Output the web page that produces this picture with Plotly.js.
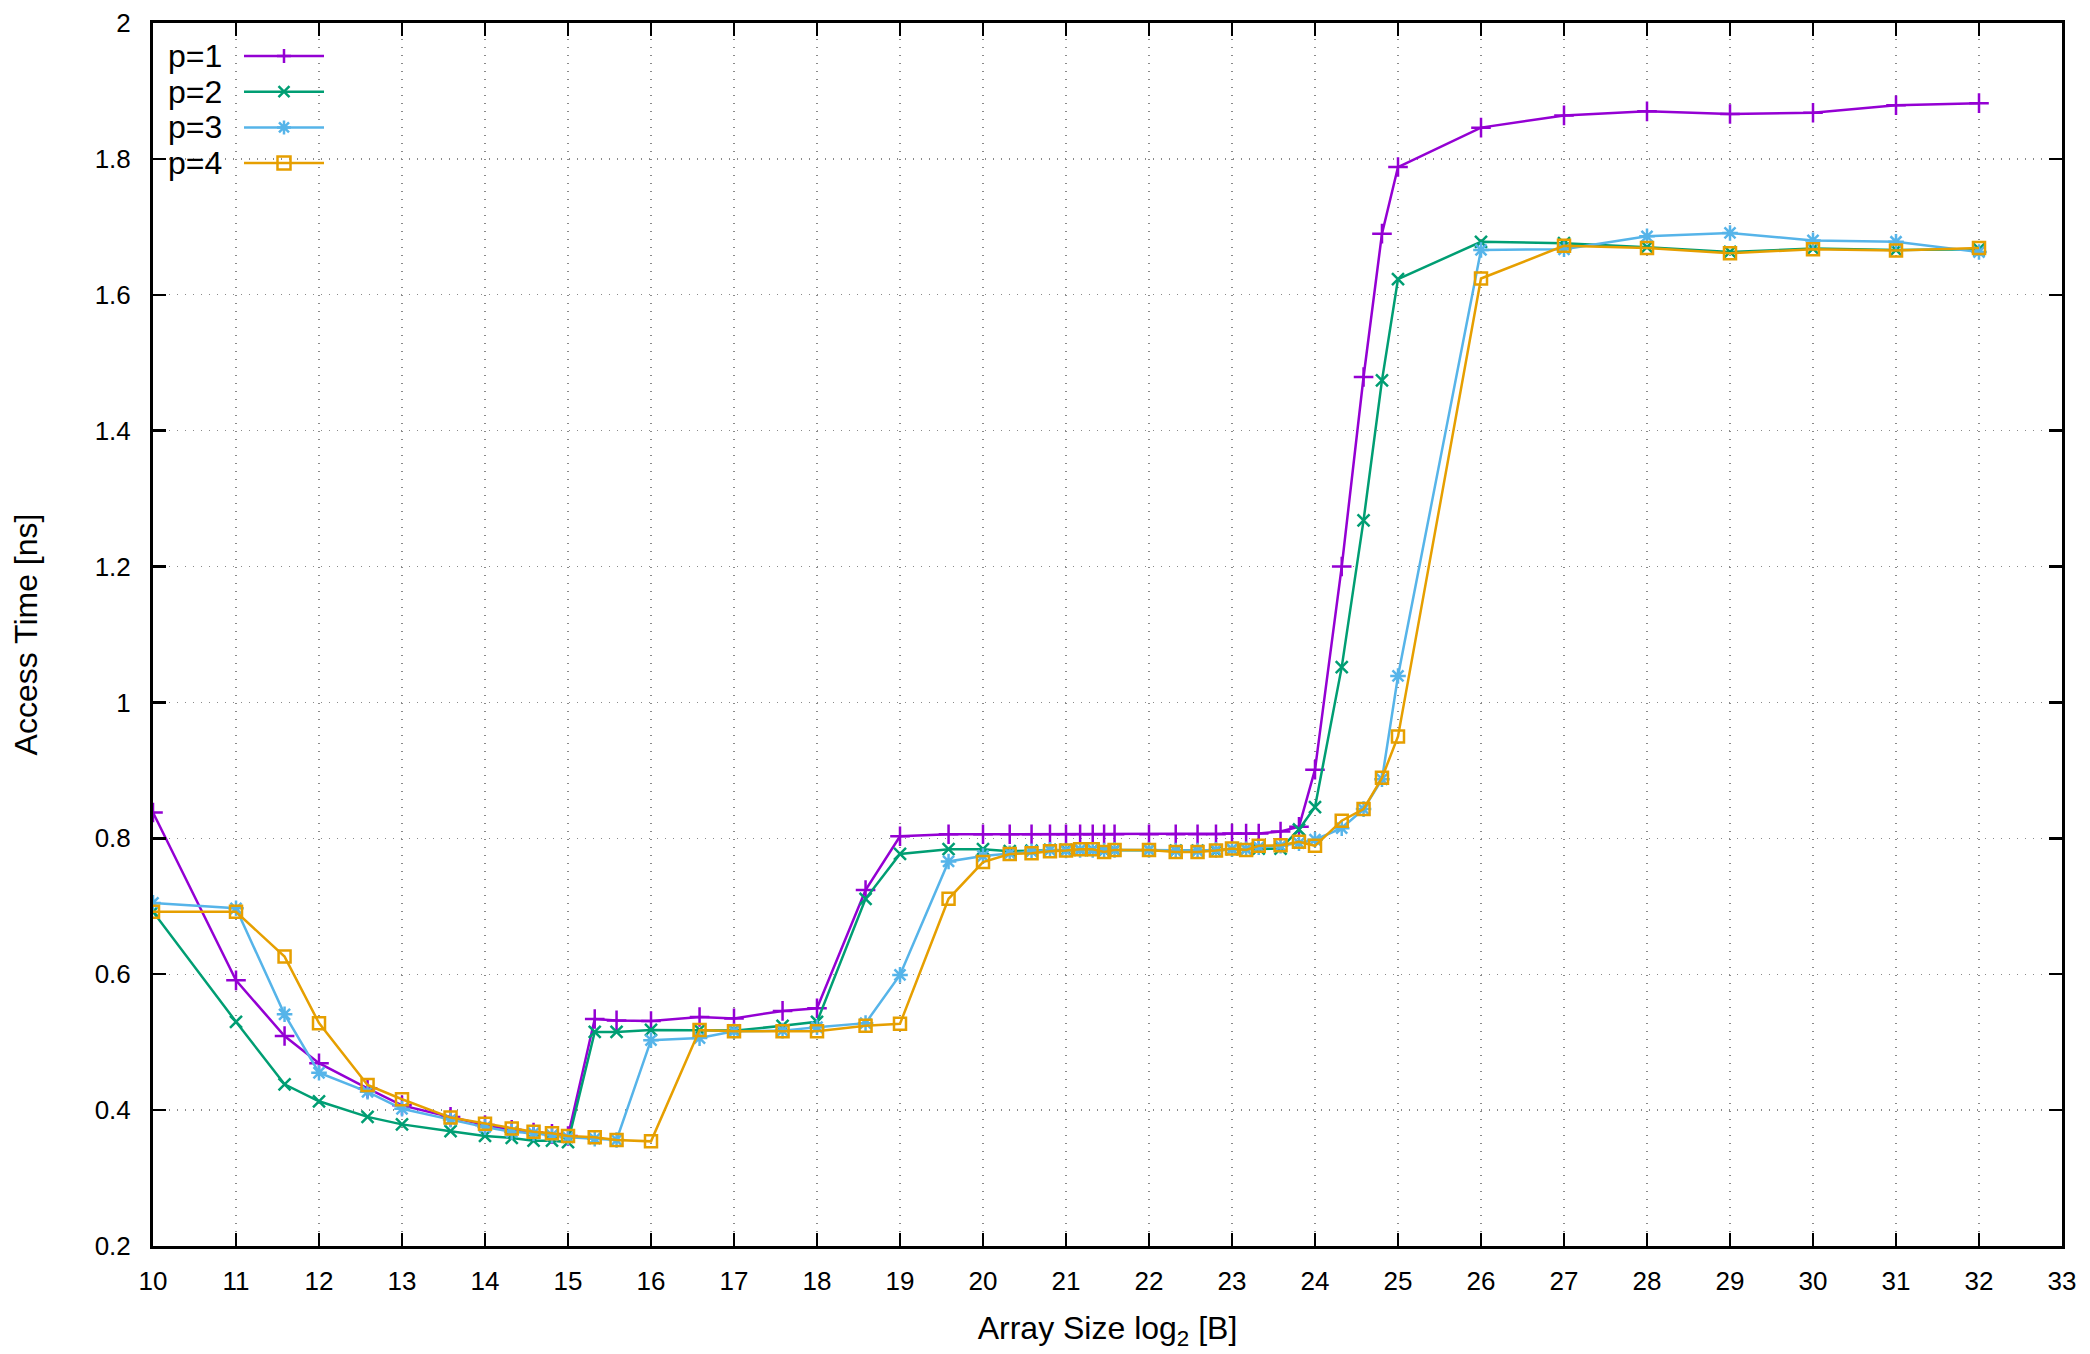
<!DOCTYPE html>
<html>
<head>
<meta charset="utf-8">
<script src="https://cdn.plot.ly/plotly-3.0.1.min.js"></script>
<style>
html,body{margin:0;padding:0;background:#fff;}
#chart{width:2090px;height:1354px;}
</style>
</head>
<body>
<div id="chart"></div>
<script>
// Array size, log2 of bytes
const sizeLog2 = [10, 11, 11.585, 12, 12.585, 13, 13.585, 14, 14.322, 14.585, 14.807, 15, 15.322, 15.585, 16, 16.585, 17, 17.585, 18, 18.585, 19, 19.585, 20, 20.322, 20.585, 20.807, 21, 21.17, 21.322, 21.459, 21.585, 22, 22.322, 22.585, 22.807, 23, 23.17, 23.322, 23.585, 23.807, 24, 24.322, 24.585, 24.807, 25, 26, 27, 28, 29, 30, 31, 32];

// Access time [ns]
const p1 = [0.838, 0.591, 0.509, 0.469, 0.432, 0.407, 0.390, 0.378, 0.371, 0.367, 0.365, 0.362, 0.534, 0.532, 0.531, 0.537, 0.535, 0.546, 0.550, 0.724, 0.803, 0.806, 0.806, 0.806, 0.806, 0.806, 0.806, 0.806, 0.806, 0.806, 0.806, 0.806, 0.806, 0.806, 0.806, 0.807, 0.807, 0.807, 0.810, 0.817, 0.901, 1.200, 1.479, 1.690, 1.788, 1.846, 1.864, 1.870, 1.866, 1.868, 1.879, 1.882];
const p2 = [0.692, 0.530, 0.438, 0.413, 0.390, 0.379, 0.369, 0.362, 0.359, 0.355, 0.355, 0.353, 0.515, 0.515, 0.518, 0.518, 0.517, 0.524, 0.530, 0.711, 0.777, 0.784, 0.784, 0.781, 0.782, 0.783, 0.783, 0.783, 0.783, 0.782, 0.783, 0.783, 0.782, 0.782, 0.782, 0.784, 0.784, 0.785, 0.785, 0.813, 0.846, 1.052, 1.268, 1.474, 1.623, 1.678, 1.676, 1.670, 1.663, 1.668, 1.666, 1.667];
const p3 = [0.705, 0.697, 0.541, 0.455, 0.427, 0.402, 0.386, 0.375, 0.368, 0.366, 0.363, 0.360, 0.358, 0.356, 0.503, 0.506, 0.516, 0.517, 0.522, 0.528, 0.599, 0.766, 0.774, 0.778, 0.781, 0.783, 0.782, 0.783, 0.783, 0.782, 0.783, 0.783, 0.782, 0.782, 0.783, 0.784, 0.784, 0.787, 0.789, 0.793, 0.798, 0.815, 0.843, 0.887, 1.039, 1.666, 1.667, 1.686, 1.691, 1.680, 1.678, 1.663];
const p4 = [0.692, 0.692, 0.626, 0.528, 0.437, 0.416, 0.389, 0.380, 0.373, 0.368, 0.366, 0.362, 0.360, 0.356, 0.354, 0.518, 0.516, 0.516, 0.516, 0.524, 0.527, 0.711, 0.765, 0.777, 0.778, 0.781, 0.782, 0.784, 0.784, 0.780, 0.783, 0.783, 0.780, 0.780, 0.782, 0.785, 0.783, 0.789, 0.790, 0.795, 0.789, 0.826, 0.843, 0.889, 0.950, 1.624, 1.672, 1.669, 1.661, 1.667, 1.665, 1.669];

const seriesNames = ['p=1', 'p=2', 'p=3', 'p=4'];
const seriesValues = [p1, p2, p3, p4];
const colors = ['#9400D3', '#009E73', '#56B4E9', '#E69F00'];
const symbols = ['cross-thin-open', 'x-thin-open', 'asterisk-open', 'square-open'];
const sizes = [14, 12, 13, 12];

const traces = seriesNames.map((name, i) => ({
  x: sizeLog2,
  y: seriesValues[i],
  name: name,
  type: 'scatter',
  mode: 'lines+markers',
  showlegend: false,
  line: {color: colors[i], width: 2.5},
  marker: {symbol: symbols[i], size: sizes[i], color: colors[i],
           line: {color: colors[i], width: 2.5}}
}));

const FONT = 'Liberation Sans, Arial, Helvetica, sans-serif';

// plot-area geometry in pixels (for the gnuplot-style key)
const W = 2090, H = 1354;
const M = {l: 153, r: 28, t: 23, b: 108};
const PW = W - M.l - M.r, PH = H - M.t - M.b;
const px2x = X => (X - M.l) / PW;
const px2y = Y => (H - M.b - Y) / PH;

// key: text right-aligned, then a line sample with the marker in its middle
const keyTextRight = 224, keyLineL = 244, keyLineR = 324, keyRow0 = 56, keyRowStep = 35.7;
const annotations = [];
const shapes = [];
seriesNames.forEach((name, i) => {
  const Y = keyRow0 + i * keyRowStep;
  annotations.push({
    xref: 'paper', yref: 'paper', x: px2x(keyTextRight), y: px2y(Y),
    xanchor: 'right', yanchor: 'middle', showarrow: false, text: name,
    font: {family: FONT, size: 32, color: '#000'}
  });
  shapes.push({
    type: 'line', xref: 'paper', yref: 'paper',
    x0: px2x(keyLineL), x1: px2x(keyLineR), y0: px2y(Y), y1: px2y(Y),
    line: {color: colors[i], width: 2.5}
  });
  const cx = px2x((keyLineL + keyLineR) / 2), cy = px2y(Y);
  let path;
  if (i === 0) { const r = 7; path = `M${-r},0 H${r} M0,${-r} V${r}`; }
  else if (i === 1) { const r = 5.5; path = `M${-r},${-r} L${r},${r} M${-r},${r} L${r},${-r}`; }
  else if (i === 2) { const r = 7, d = 5; path = `M${-r},0 H${r} M0,${-r} V${r} M${-d},${-d} L${d},${d} M${-d},${d} L${d},${-d}`; }
  else { const r = 6.5; path = `M${-r},${-r} H${r} V${r} H${-r} Z`; }
  shapes.push({
    type: 'path', xref: 'paper', yref: 'paper',
    xsizemode: 'pixel', ysizemode: 'pixel', xanchor: cx, yanchor: cy,
    path: path, line: {color: colors[i], width: 2.5}, fillcolor: 'rgba(0,0,0,0)'
  });
});

const axisCommon = {
  showline: true, linecolor: '#000', linewidth: 3,
  mirror: 'allticks', ticks: 'inside', ticklen: 13, tickwidth: 2.5, tickcolor: '#000',
  showgrid: true, gridcolor: '#8a8a8a', gridwidth: 1.4, griddash: '1.4px,6.6px',
  zeroline: false,
  tickfont: {family: FONT, size: 26, color: '#000'}
};

const layout = {
  width: W, height: H,
  margin: M,
  paper_bgcolor: '#fff', plot_bgcolor: '#fff',
  font: {family: FONT, size: 26, color: '#000'},
  showlegend: false,
  annotations: annotations,
  shapes: shapes,
  xaxis: Object.assign({}, axisCommon, {
    range: [10, 33], dtick: 1, tick0: 10, ticklabelstandoff: 10,
    title: {text: 'Array Size log<sub>2</sub> [B]', font: {family: FONT, size: 32, color: '#000'}, standoff: 22}
  }),
  yaxis: Object.assign({}, axisCommon, {
    range: [0.2, 2], dtick: 0.2, tick0: 0.2, ticklabelstandoff: 14,
    title: {text: 'Access Time [ns]', font: {family: FONT, size: 32, color: '#000'}, standoff: 48}
  })
};

Plotly.newPlot('chart', traces, layout, {displayModeBar: false, staticPlot: true});
</script>
</body>
</html>
